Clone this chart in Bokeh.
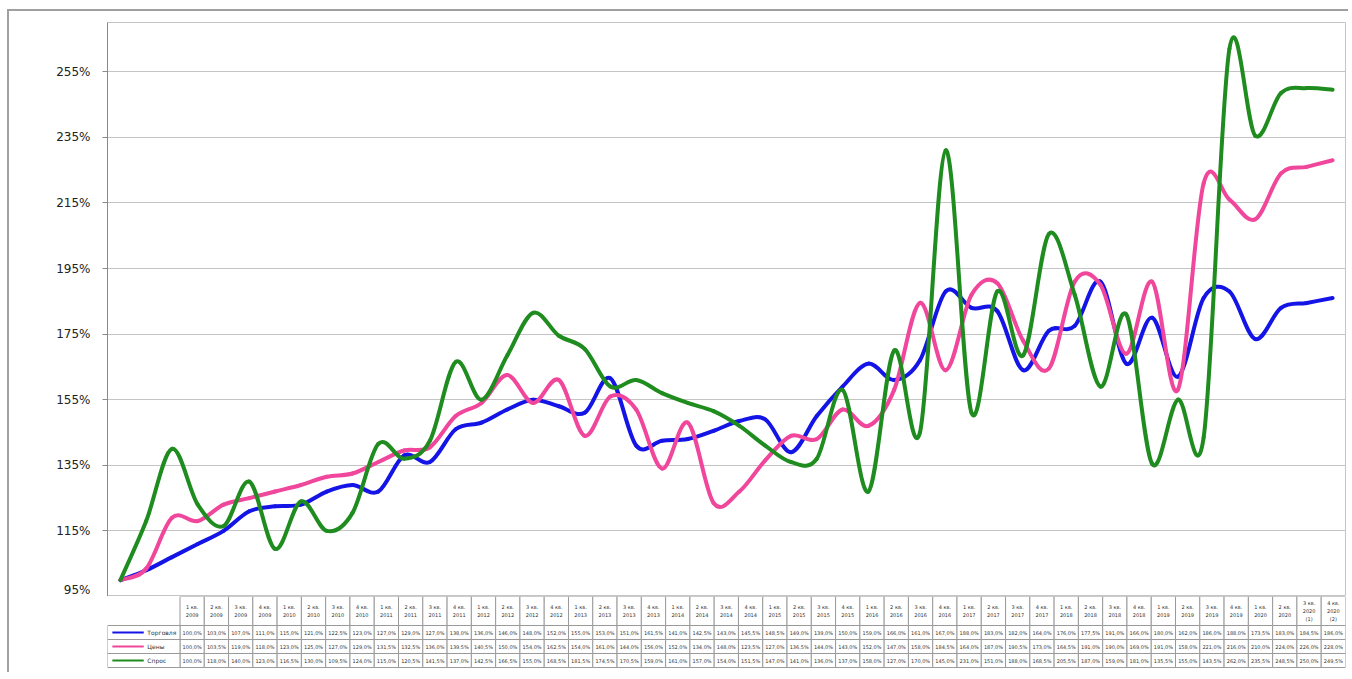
import numpy as np
from bokeh.plotting import figure
from bokeh.layouts import column
from bokeh.models import Range1d, FixedTicker, PrintfTickFormatter, ColumnDataSource
from bokeh.core.properties import value
from bokeh.embed import file_html
from bokeh.resources import INLINE

# ---------------- data ----------------
categories = []
for yr in range(2009, 2021):
    for q in range(1, 5):
        categories.append(f"{q} кв.\n{yr}")
categories[-2] = categories[-2] + "\n(1)"
categories[-1] = categories[-1] + "\n(2)"

series_names = ["Торговля", "Цены", "Спрос"]
series_colors = ["#1414e6", "#f0469b", "#1f8c1f"]

trade = [100, 103, 107, 111, 115, 121, 122.5, 123, 127, 129, 127, 138, 136, 146, 148, 152,
         155, 153, 151, 161.5, 141, 142.5, 143, 145.5, 148.5, 149, 139, 150, 159, 166, 161, 167,
         188, 183, 182, 164, 176, 177.5, 191, 166, 180, 162, 186, 188, 173.5, 183, 184.5, 186]
prices = [100, 103.5, 119, 118, 123, 125, 127, 129, 131.5, 132.5, 136, 139.5, 140.5, 150, 154, 162.5,
          154, 161, 144, 156, 152, 134, 148, 123.5, 127, 136.5, 144, 143, 152, 147, 158, 184.5,
          164, 187, 190.5, 173, 164.5, 191, 190, 169, 191, 158, 221, 216, 210, 224, 226, 228]
demand = [100, 118, 140, 123, 116.5, 130, 109.5, 124, 115, 120.5, 141.5, 137, 142.5, 166.5, 155, 168.5,
          181.5, 174.5, 170.5, 159, 161, 157, 154, 151.5, 147, 141, 136, 137, 158, 127, 170, 145,
          231, 151, 188, 168.5, 205.5, 187, 159, 181, 135.5, 155, 143.5, 262, 235.5, 248.5, 250, 249.5]
series_values = [trade, prices, demand]

y_ticks = [95, 115, 135, 155, 175, 195, 215, 235, 255]

FONT = "DejaVu Sans"
n = len(categories)
col_px = 1238 / n
legend_cols = 77 / col_px

# ---------------- main chart ----------------
p = figure(width=1339, height=585, output_backend="svg", toolbar_location=None,
           x_range=Range1d(-0.5, n - 0.5), y_range=Range1d(95, 270),
           min_border_left=98, min_border_right=3, min_border_top=11, min_border_bottom=0)
p.xaxis.visible = False
p.xgrid.visible = False
p.ygrid.grid_line_color = "#c4c4c4"
p.ygrid.grid_line_width = 1
p.yaxis.ticker = FixedTicker(ticks=y_ticks)
p.yaxis.formatter = PrintfTickFormatter(format="%d%%")
p.yaxis.axis_line_color = "#8a8a8a"
p.yaxis.major_tick_line_color = "#8a8a8a"
p.yaxis.major_tick_out = 5
p.yaxis.major_tick_in = 0
p.yaxis.minor_tick_line_color = None
p.yaxis.major_label_text_font = FONT
p.yaxis.major_label_text_font_size = "12px"
p.yaxis.major_label_text_color = "#222222"
p.yaxis.major_label_standoff = 12
p.outline_line_color = "#c4c4c4"
p.background_fill_color = "white"
p.border_fill_color = "white"

xs = np.arange(n, dtype=float)
for vals, color in zip(series_values, series_colors):
    y = np.array(vals, dtype=float)
    yp = np.concatenate([[y[0]], y, [y[-1]]])
    xp = np.concatenate([[xs[0]], xs, [xs[-1]]])
    k = 1.0 / 6.0
    x0 = xs[:-1]; y0 = y[:-1]; x1 = xs[1:]; y1 = y[1:]
    cx0 = x0 + (xp[2:-1] - xp[:-3]) * k
    cy0 = y0 + (yp[2:-1] - yp[:-3]) * k
    cx1 = x1 - (xp[3:] - xp[1:-2]) * k
    cy1 = y1 - (yp[3:] - yp[1:-2]) * k
    src = ColumnDataSource(dict(x0=x0, y0=y0, x1=x1, y1=y1, cx0=cx0, cy0=cy0, cx1=cx1, cy1=cy1))
    p.bezier(x0="x0", y0="y0", x1="x1", y1="y1", cx0="cx0", cy0="cy0", cx1="cx1", cy1="cy1",
             source=src, line_color=color, line_width=4, line_cap="round")

# ---------------- data table ----------------
t = figure(width=1339, height=76, output_backend="svg", toolbar_location=None,
           x_range=Range1d(-0.5 - legend_cols, n - 0.5), y_range=Range1d(72, 0),
           min_border_left=21, min_border_right=3, min_border_top=0, min_border_bottom=4)
t.axis.visible = False
t.grid.visible = False
t.outline_line_color = None
t.background_fill_color = "white"
t.border_fill_color = "white"

H = 29
R = 14
# header cells
t.quad(left=xs - 0.5, right=xs + 0.5, top=[0] * n, bottom=[H] * n,
       fill_color="white", line_color="#9a9a9a", line_width=1)
t.text(x=xs, y=[H / 2] * n, text=categories, text_align="center", text_baseline="middle",
       text_font=value(FONT), text_font_size="5px", text_color="#333333", text_line_height=1.3)
# series rows
for r, (name, color, vals) in enumerate(zip(series_names, series_colors, series_values)):
    top = H + r * R
    bot = top + R
    t.quad(left=xs - 0.5, right=xs + 0.5, top=[top] * n, bottom=[bot] * n,
           fill_color="white", line_color="#9a9a9a", line_width=1)
    t.text(x=xs, y=[top + R / 2] * n, text=[f"{v:.1f}%".replace(".", ",") for v in vals],
           text_align="center", text_baseline="middle", text_font=value(FONT),
           text_font_size="5px", text_color="#333333")
    t.quad(left=[-0.5 - legend_cols], right=[-0.5], top=[top], bottom=[bot],
           fill_color="white", line_color="#9a9a9a", line_width=1)
    t.segment(x0=[-0.5 - legend_cols + 0.2], x1=[-0.5 - legend_cols * 0.5], y0=[top + R / 2],
              y1=[top + R / 2], line_color=color, line_width=2)
    t.text(x=[-0.5 - legend_cols * 0.45], y=[top + R / 2], text=[name], text_align="left",
           text_baseline="middle", text_font=value(FONT), text_font_size="6px",
           text_color="#333333")

layout = column(p, t, spacing=0,
                styles={"margin-left": "7px", "margin-top": "9px",
                        "border-top": "2px solid #a0a0a0", "border-left": "2px solid #a0a0a0"})

with open("out.html", "w") as f:
    f.write(file_html(layout, INLINE))
